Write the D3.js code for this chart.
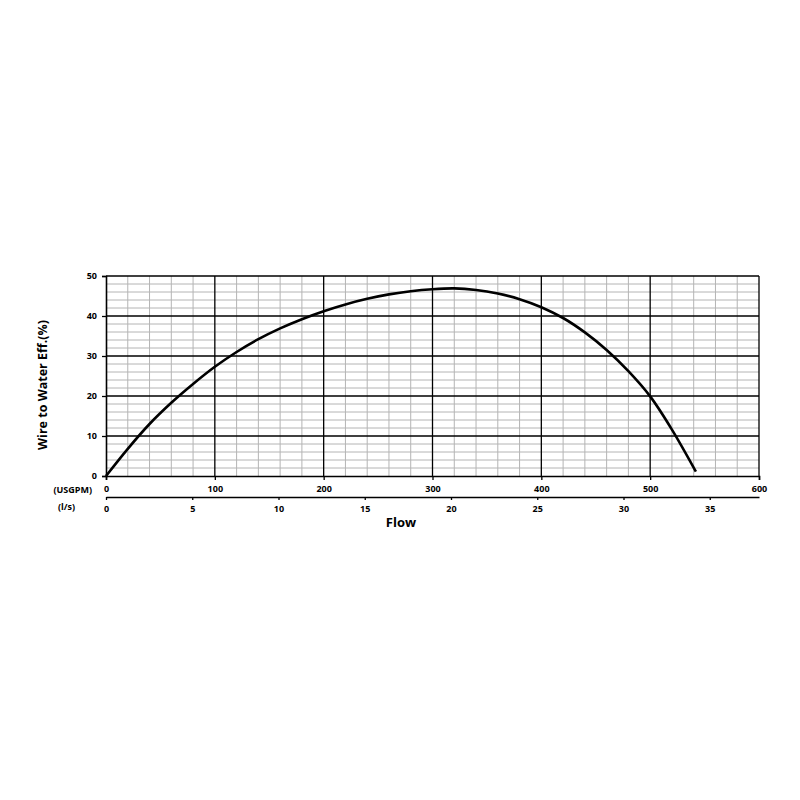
<!DOCTYPE html>
<html>
<head>
<meta charset="utf-8">
<script src="https://cdn.jsdelivr.net/npm/d3@7"></script>
<style>
  body { margin: 0; background: #fff; }
  text { font-family: "Open Sans", sans-serif; font-weight: bold; fill: #000; }
</style>
</head>
<body>
<svg id="chart" width="800" height="800"></svg>
<script>
// flow in USGPM and wire to water efficiency (%)
const flowGpm = [0, 20, 40, 60, 80, 100, 120, 140, 160, 180, 200, 220, 240, 260, 280, 300, 320, 340, 360, 380, 400, 420, 440, 460, 480, 500, 520, 542];
const effPct  = [0, 6.8, 13.0, 18.3, 23.0, 27.3, 31.0, 34.2, 36.9, 39.2, 41.2, 42.9, 44.3, 45.4, 46.2, 46.7, 46.9, 46.5, 45.6, 44.2, 42.2, 39.5, 35.9, 31.5, 26.2, 19.9, 11.6, 1.1];

const gpmTicks = [0, 100, 200, 300, 400, 500, 600];
const lpsTicks = [0, 5, 10, 15, 20, 25, 30, 35];
const effTicks = [0, 10, 20, 30, 40, 50];
const GPM_PER_LPS = 15.85;

const svg = d3.select('#chart');
const pLeft = 106, pRight = 759, pTop = 276, pBottom = 476;

const x = d3.scaleLinear().domain([0, 600]).range([pLeft, pRight]);
const xl = d3.scaleLinear().domain([0, 600 / GPM_PER_LPS]).range([pLeft, pRight]);
const y = d3.scaleLinear().domain([0, 50]).range([pBottom, pTop]);

// minor grid
const g = svg.append('g');
g.selectAll('.vmin').data(d3.range(20, 600, 20).filter(d => d % 100 !== 0))
  .enter().append('line')
  .attr('x1', d => x(d)).attr('x2', d => x(d))
  .attr('y1', pTop).attr('y2', pBottom)
  .attr('stroke', '#b4b4b4').attr('stroke-width', 1);
g.selectAll('.hmin').data(d3.range(2, 50, 2).filter(d => d % 10 !== 0))
  .enter().append('line')
  .attr('x1', pLeft).attr('x2', pRight)
  .attr('y1', d => y(d)).attr('y2', d => y(d))
  .attr('stroke', '#b4b4b4').attr('stroke-width', 1);

// major grid
g.selectAll('.vmaj').data(gpmTicks.slice(1))
  .enter().append('line')
  .attr('x1', d => x(d)).attr('x2', d => x(d))
  .attr('y1', pTop).attr('y2', pBottom)
  .attr('stroke', '#000').attr('stroke-width', 1.3);
g.selectAll('.hmaj').data(effTicks.slice(1))
  .enter().append('line')
  .attr('x1', pLeft).attr('x2', pRight)
  .attr('y1', d => y(d)).attr('y2', d => y(d))
  .attr('stroke', '#000').attr('stroke-width', 1.3);

// axes
const xAxis = d3.axisBottom(x).tickValues(gpmTicks).tickSize(4).tickPadding(6);
const gx = svg.append('g').attr('transform', `translate(0,${pBottom})`).call(xAxis);
gx.select('.domain').attr('stroke-width', 1.6);

const yAxis = d3.axisLeft(y).tickValues(effTicks).tickSize(4).tickPadding(5);
const gy = svg.append('g').attr('transform', `translate(${pLeft},0)`).call(yAxis);
gy.select('.domain').attr('stroke-width', 1.6);

const lAxis = d3.axisBottom(xl).tickValues(lpsTicks).tickSize(3).tickPadding(6).tickSizeOuter(0);
const gl = svg.append('g').attr('transform', 'translate(0,497)').call(lAxis);
gl.select('.domain').attr('stroke-width', 1.3);

svg.selectAll('.tick text').attr('font-size', 9).attr('font-family', '"Open Sans", sans-serif').attr('font-weight', 'bold');
svg.selectAll('.tick line').attr('stroke-width', 1.3);

// curve
const line = d3.line()
  .x((d, i) => x(flowGpm[i]))
  .y(d => y(d))
  .curve(d3.curveCatmullRom);
svg.append('path')
  .datum(effPct)
  .attr('d', line)
  .attr('fill', 'none')
  .attr('stroke', '#000')
  .attr('stroke-width', 2.6);

// labels
svg.append('text').attr('x', 92).attr('y', 493)
  .attr('text-anchor', 'end').attr('font-size', 9).text('(USGPM)');
svg.append('text').attr('x', 75).attr('y', 510)
  .attr('text-anchor', 'end').attr('font-size', 9).text('(l/s)');
svg.append('text').attr('x', 401).attr('y', 527)
  .attr('text-anchor', 'middle').attr('font-size', 13).text('Flow');
svg.append('text')
  .attr('transform', 'translate(47,385) rotate(-90)')
  .attr('text-anchor', 'middle').attr('font-size', 12.5).text('Wire to Water Eff.(%)');
</script>
</body>
</html>
